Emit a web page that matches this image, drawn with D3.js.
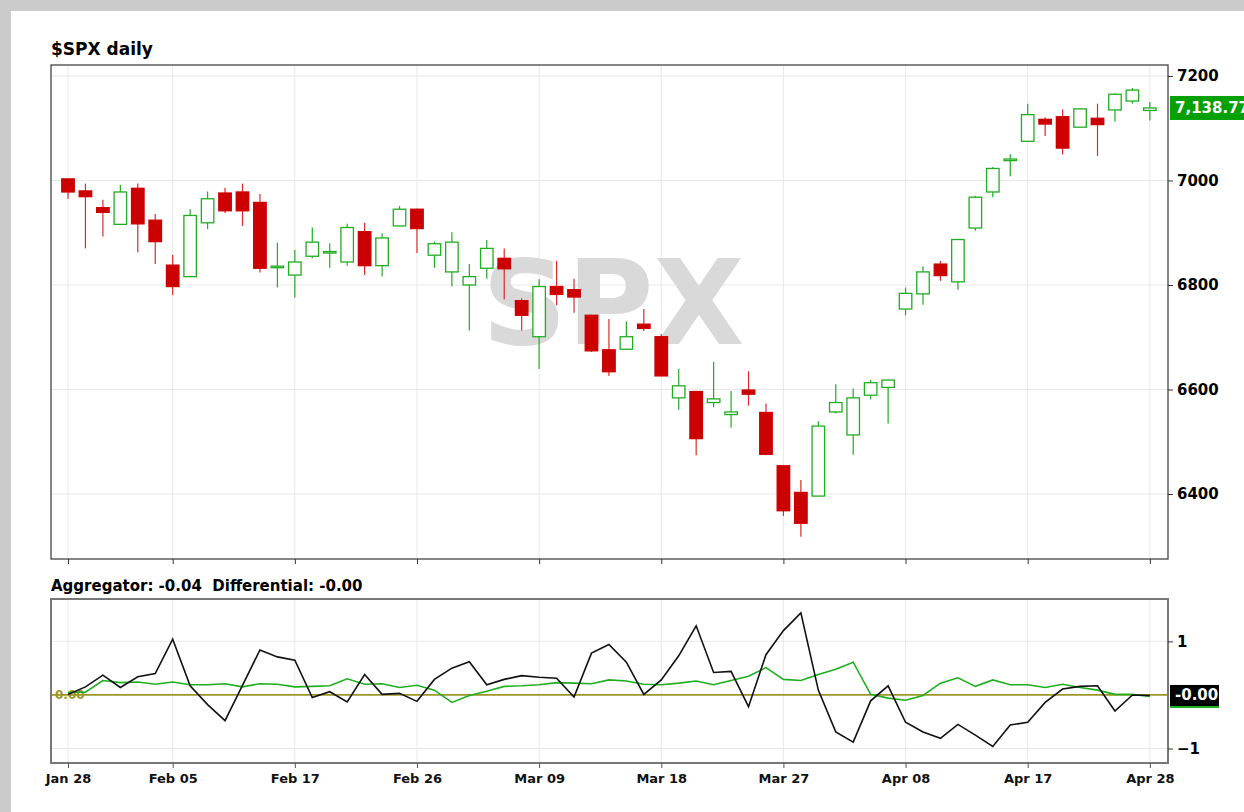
<!DOCTYPE html>
<html>
<head>
<meta charset="utf-8">
<script src="https://cdn.jsdelivr.net/npm/d3@7"></script>
<style>
  html, body { margin: 0; padding: 0; background: #cbcbcb; overflow: hidden; }
  svg { display: block; font-family: "DejaVu Sans", sans-serif; }
</style>
</head>
<body>
<div id="chart"></div>
<script>
// trading days shown on the chart
const dates = ["Jan 28","Jan 29","Jan 30","Feb 02","Feb 03","Feb 04","Feb 05","Feb 06","Feb 09","Feb 10",
  "Feb 11","Feb 12","Feb 13","Feb 17","Feb 18","Feb 19","Feb 20","Feb 23","Feb 24","Feb 25",
  "Feb 26","Feb 27","Mar 02","Mar 03","Mar 04","Mar 05","Mar 06","Mar 09","Mar 10","Mar 11",
  "Mar 12","Mar 13","Mar 16","Mar 17","Mar 18","Mar 19","Mar 20","Mar 23","Mar 24","Mar 25",
  "Mar 26","Mar 27","Mar 30","Mar 31","Apr 01","Apr 02","Apr 06","Apr 07","Apr 08","Apr 09",
  "Apr 10","Apr 13","Apr 14","Apr 15","Apr 16","Apr 17","Apr 20","Apr 21","Apr 22","Apr 23",
  "Apr 24","Apr 27","Apr 28"]

const open = [7003,6980,6948,6916,6985,6924,6838,6816,6919,6976,6978,6958,6835,6819,6855,6862,6844,6902,6837,6913,
  6945,6857,6825,6800,6832,6851,6770,6701,6797,6791,6742,6676,6677,6725,6701,6584,6596,6575,6552,6599,
  6556,6454,6403,6396,6557,6513,6589,6604,6754,6783,6840,6806,6909,6978,7038,7075,7117,7122,7102,7119,
  7135,7152,7134]
const high = [7003,6994,6963,6992,6994,6936,6858,6945,6979,6986,6994,6974,6881,6867,6910,6880,6917,6919,6899,6951,
  6946,6883,6901,6840,6886,6870,6774,6811,6846,6812,6743,6735,6730,6754,6706,6639,6596,6653,6597,6635,
  6573,6454,6427,6539,6610,6602,6618,6619,6795,6836,6846,6887,6971,7026,7050,7147,7121,7136,7138,7147,
  7167,7177,7150]
const low = [6965,6870,6893,6915,6862,6840,6781,6816,6907,6938,6913,6824,6795,6776,6851,6833,6837,6819,6816,6913,
  6861,6833,6797,6713,6812,6772,6713,6639,6761,6747,6672,6626,6677,6712,6626,6561,6474,6566,6527,6569,
  6474,6358,6318,6396,6554,6475,6581,6535,6742,6762,6808,6791,6904,6968,7008,7074,7085,7050,7102,7047,
  7113,7147,7115]
const close = [6978,6969,6939,6978,6917,6883,6797,6933,6965,6942,6942,6832,6836,6844,6882,6864,6910,6837,6890,6945,
  6908,6879,6882,6816,6870,6831,6742,6797,6782,6777,6674,6634,6701,6717,6626,6607,6506,6582,6557,6591,
  6476,6368,6344,6530,6575,6584,6613,6618,6784,6825,6818,6887,6968,7023,7041,7126,7108,7062,7137,7107,
  7165,7173,7138.77]

// lower panel series
const blackLine = [0.01,0.15,0.37,0.14,0.34,0.40,1.04,0.17,-0.18,-0.48,0.18,0.84,0.71,0.65,-0.05,0.06,-0.13,0.38,0.01,0.03,
  -0.12,0.29,0.50,0.62,0.19,0.29,0.36,0.33,0.31,-0.04,0.78,0.94,0.61,0.01,0.28,0.73,1.29,0.42,0.44,-0.22,
  0.75,1.20,1.53,0.09,-0.69,-0.88,-0.11,0.17,-0.51,-0.69,-0.81,-0.55,-0.75,-0.96,-0.56,-0.51,-0.14,0.11,0.16,0.17,
  -0.30,0.00,-0.01]
const greenLine = [0.05,0.05,0.27,0.23,0.24,0.20,0.24,0.19,0.19,0.21,0.15,0.21,0.20,0.15,0.16,0.17,0.30,0.20,0.21,0.14,
  0.18,0.09,-0.14,-0.01,0.07,0.16,0.17,0.19,0.23,0.22,0.21,0.28,0.26,0.20,0.19,0.22,0.26,0.19,0.27,0.35,
  0.51,0.29,0.27,0.38,0.48,0.61,0.01,-0.06,-0.10,-0.01,0.22,0.32,0.16,0.28,0.19,0.19,0.14,0.20,0.14,0.09,
  0.01,0.01,-0.03]

const tickLabels = ["Jan 28","Feb 05","Feb 17","Feb 26","Mar 09","Mar 18","Mar 27","Apr 08","Apr 17","Apr 28"]
const priceTicks = [6400, 6600, 6800, 7000, 7200]
const lowerTicks = [-1, 1]
const lastTagText = "-0.00"

const W = 1244, H = 812
const main = {left: 51, top: 65, right: 1168, bottom: 559}
const lower = {left: 51, top: 599, right: 1168, bottom: 763}

const green = "#1fae1f", red = "#cc0000"

const svg = d3.select("#chart").append("svg")
    .attr("width", W)
    .attr("height", H)

// white card on grey page
svg.append("rect").attr("x", 11).attr("y", 11).attr("width", W).attr("height", H).attr("fill", "#fff")

const x = d3.scaleLinear()
    .domain([-0.974, 63.04])
    .range([main.left, main.right])

const y = d3.scaleLinear()
    .domain([6275.6, 7221])
    .range([main.bottom, main.top])

const y2 = d3.scaleLinear()
    .domain([-1.27, 1.79])
    .range([lower.bottom, lower.top])

const tickIdx = tickLabels.map(t => dates.indexOf(t))

svg.append("text")
    .attr("x", 51).attr("y", 55)
    .attr("font-size", 17).attr("font-weight", "bold")
    .text("$SPX daily")

svg.append("text")
    .attr("x", 51).attr("y", 591)
    .attr("font-size", 15).attr("font-weight", "bold")
    .style("white-space", "pre")
    .text("Aggregator: -0.04  Differential: -0.00")

// ---------- main panel ----------
const gMain = svg.append("g")

gMain.append("g")
    .selectAll("line.v")
    .data(tickIdx)
    .join("line")
    .attr("x1", d => x(d)).attr("x2", d => x(d))
    .attr("y1", main.top).attr("y2", main.bottom)
    .attr("stroke", "#e8e8e8")

gMain.append("g")
    .selectAll("line.h")
    .data(priceTicks)
    .join("line")
    .attr("x1", main.left).attr("x2", main.right)
    .attr("y1", d => y(d)).attr("y2", d => y(d))
    .attr("stroke", "#e8e8e8")

// watermark
gMain.append("text")
    .attr("x", 482).attr("y", 344)
    .attr("font-size", 118).attr("font-weight", "bold")
    .attr("fill", "#d9d9d9")
    .text("SPX")

const candles = gMain.append("g")
    .selectAll("g")
    .data(dates.map((d, i) => i))
    .join("g")

const bw = 12.5

candles.append("line")
    .attr("x1", i => x(i)).attr("x2", i => x(i))
    .attr("y1", i => y(high[i])).attr("y2", i => y(low[i]))
    .attr("stroke", i => close[i] >= open[i] ? green : "#dd2a2a")
    .attr("stroke-width", 1.2)

candles.append("rect")
    .attr("x", i => x(i) - bw / 2)
    .attr("width", bw)
    .attr("y", i => y(Math.max(open[i], close[i])))
    .attr("height", i => Math.max(1.5, Math.abs(y(open[i]) - y(close[i]))))
    .attr("fill", i => close[i] >= open[i] ? "#fff" : red)
    .attr("stroke", i => close[i] >= open[i] ? green : red)
    .attr("stroke-width", 1.3)

gMain.append("rect")
    .attr("x", main.left).attr("y", main.top)
    .attr("width", main.right - main.left).attr("height", main.bottom - main.top)
    .attr("fill", "none").attr("stroke", "#444").attr("stroke-width", 1.3)

const rightAxis = gMain.append("g")
    .attr("transform", `translate(${main.right},0)`)
    .call(d3.axisRight(y).tickValues(priceTicks).tickSize(5).tickPadding(4).tickFormat(d3.format("d")))
rightAxis.select(".domain").remove()
rightAxis.selectAll("text").attr("font-size", 15).attr("font-weight", "bold").attr("fill", "#000")
    .attr("font-family", "DejaVu Sans")
rightAxis.selectAll("line").attr("stroke", "#333")

const mainBottom = gMain.append("g")
    .attr("transform", `translate(0,${main.bottom})`)
    .call(d3.axisBottom(x).tickValues(tickIdx).tickSize(5).tickFormat(""))
mainBottom.select(".domain").remove()
mainBottom.selectAll("line").attr("stroke", "#333")

// last price tag (runs off the right edge like the original)
const last = close[close.length - 1]
gMain.append("rect")
    .attr("x", 1170).attr("y", y(last) - 12)
    .attr("width", 90).attr("height", 24)
    .attr("fill", "#04a004")
gMain.append("text")
    .attr("x", 1175).attr("y", y(last) + 5.5)
    .attr("font-size", 15).attr("font-weight", "bold").attr("fill", "#fff")
    .text(d3.format(",.2f")(last))

// ---------- lower panel ----------
const gLow = svg.append("g")

gLow.append("g")
    .selectAll("line")
    .data(tickIdx)
    .join("line")
    .attr("x1", d => x(d)).attr("x2", d => x(d))
    .attr("y1", lower.top).attr("y2", lower.bottom)
    .attr("stroke", "#e8e8e8")

gLow.append("g")
    .selectAll("line")
    .data(lowerTicks)
    .join("line")
    .attr("x1", lower.left).attr("x2", lower.right)
    .attr("y1", d => y2(d)).attr("y2", d => y2(d))
    .attr("stroke", "#e8e8e8")

gLow.append("text")
    .attr("x", 55).attr("y", y2(0) + 4.5)
    .attr("font-size", 12).attr("font-weight", "bold")
    .attr("fill", "#9c9628")
    .text("0.00")

gLow.append("line")
    .attr("x1", lower.left).attr("x2", lower.right)
    .attr("y1", y2(0)).attr("y2", y2(0))
    .attr("stroke", "#9c9628").attr("stroke-width", 1.8)

const line = d3.line().x((d, i) => x(i)).y(d => y2(d))

gLow.append("path")
    .datum(greenLine)
    .attr("d", line)
    .attr("fill", "none").attr("stroke", "#1fae1f").attr("stroke-width", 1.6)

gLow.append("path")
    .datum(blackLine)
    .attr("d", line)
    .attr("fill", "none").attr("stroke", "#111").attr("stroke-width", 1.6)

gLow.append("rect")
    .attr("x", lower.left).attr("y", lower.top)
    .attr("width", lower.right - lower.left).attr("height", lower.bottom - lower.top)
    .attr("fill", "none").attr("stroke", "#777").attr("stroke-width", 2)

const lowRight = gLow.append("g")
    .attr("transform", `translate(${lower.right},0)`)
    .call(d3.axisRight(y2).tickValues(lowerTicks).tickSize(5).tickPadding(4).tickFormat(d3.format("d")))
lowRight.select(".domain").remove()
lowRight.selectAll("text").attr("font-size", 15).attr("font-weight", "bold").attr("fill", "#000")
    .attr("font-family", "DejaVu Sans")
lowRight.selectAll("line").attr("stroke", "#333")

const lowBottom = gLow.append("g")
    .attr("transform", `translate(0,${lower.bottom})`)
    .call(d3.axisBottom(x).tickValues(tickIdx).tickSize(5).tickPadding(6).tickFormat(i => dates[i]))
lowBottom.select(".domain").remove()
lowBottom.selectAll("text").attr("font-size", 13).attr("font-weight", "bold").attr("fill", "#111")
    .attr("font-family", "DejaVu Sans")
lowBottom.selectAll("line").attr("stroke", "#555")

// value tags on the right, green one peeks out under the black one
const gLast = greenLine[greenLine.length - 1]
const bLast = blackLine[blackLine.length - 1]
gLow.append("rect")
    .attr("x", 1170).attr("y", y2(gLast) - 9.5)
    .attr("width", 49).attr("height", 21)
    .attr("fill", "#1fae1f")
gLow.append("rect")
    .attr("x", 1170).attr("y", y2(bLast) - 10.5)
    .attr("width", 49).attr("height", 21)
    .attr("fill", "#000")
gLow.append("text")
    .attr("x", 1175).attr("y", y2(bLast) + 5)
    .attr("font-size", 15).attr("font-weight", "bold").attr("fill", "#fff")
    .text(lastTagText)
</script>
</body>
</html>
